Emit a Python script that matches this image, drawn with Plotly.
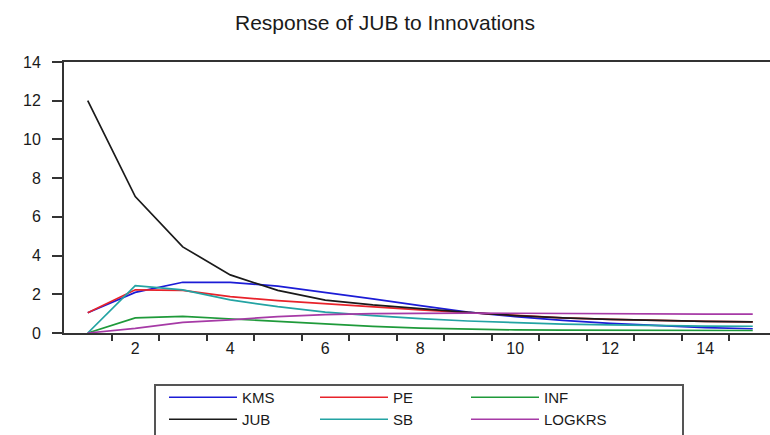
import plotly.graph_objects as go

periods = list(range(1, 16))
series_names = ["KMS", "PE", "INF", "JUB", "SB", "LOGKRS"]
kms = [1.05, 2.10, 2.62, 2.62, 2.42, 2.10, 1.76, 1.41, 1.08, 0.85, 0.65, 0.50, 0.38, 0.28, 0.22]
pe = [1.05, 2.23, 2.20, 1.88, 1.67, 1.50, 1.36, 1.19, 1.05, 0.90, 0.78, 0.70, 0.64, 0.60, 0.57]
inf = [0.00, 0.78, 0.86, 0.73, 0.62, 0.47, 0.34, 0.25, 0.19, 0.16, 0.15, 0.14, 0.14, 0.13, 0.13]
jub = [12.0, 7.05, 4.45, 3.00, 2.20, 1.70, 1.45, 1.25, 1.07, 0.90, 0.78, 0.70, 0.64, 0.60, 0.57]
sb = [0.00, 2.45, 2.23, 1.71, 1.36, 1.08, 0.90, 0.74, 0.62, 0.53, 0.46, 0.42, 0.38, 0.36, 0.35]
logkrs = [0.00, 0.24, 0.55, 0.68, 0.85, 0.95, 1.00, 1.03, 1.03, 1.02, 1.00, 1.00, 0.99, 0.98, 0.97]
values = [kms, pe, inf, jub, sb, logkrs]
colors = ["#1c1cd6", "#e8232b", "#1f9a3a", "#1a1a1a", "#23a3a3", "#a63aa6"]
legend_rows = ["legend", "legend", "legend", "legend2", "legend2", "legend2"]

x_tick_vals = [2, 4, 6, 8, 10, 12, 14]
x_minor_vals = [i + 0.5 for i in range(1, 15)]
y_tick_vals = [0, 2, 4, 6, 8, 10, 12, 14]

W, H = 770, 435
ml, mr, mt, mb = 64, 0, 62, 102
pw, ph = W - ml - mr, H - mt - mb

def px_to_paper_x(px):
    return (px - ml) / pw

def px_to_paper_y(py):
    return (H - mb - py) / ph

fig = go.Figure()
for name, vals, col, lg in zip(series_names, values, colors, legend_rows):
    fig.add_trace(go.Scatter(x=periods, y=vals, mode="lines", name=name, legend=lg,
                             line=dict(color=col, width=1.7)))

font_fam = "Liberation Sans, Arial, sans-serif"
legend_common = dict(orientation="h", xanchor="left", yanchor="top",
                     borderwidth=0, bgcolor="rgba(0,0,0,0)",
                     entrywidth=68, entrywidthmode="pixels", itemwidth=68,
                     font=dict(size=15, family=font_fam, color="#1a1a1a"),
                     tracegroupgap=0)
fig.update_layout(
    width=W, height=H,
    margin=dict(l=ml, r=mr, t=mt, b=mb, autoexpand=False),
    paper_bgcolor="white", plot_bgcolor="white",
    font=dict(family=font_fam, size=16, color="#1a1a1a"),
    title=dict(text="Response of JUB to Innovations", x=0.5, xref="container",
               xanchor="center", y=1 - 23 / H, yref="container", yanchor="middle",
               font=dict(size=21, family=font_fam, color="#1a1a1a")),
    showlegend=True,
    legend=dict(x=px_to_paper_x(164), y=px_to_paper_y(381), **legend_common),
    legend2=dict(x=px_to_paper_x(164), y=px_to_paper_y(403), **legend_common),
    shapes=[dict(type="rect", xref="paper", yref="paper",
                 x0=px_to_paper_x(155), x1=px_to_paper_x(683),
                 y0=px_to_paper_y(385), y1=px_to_paper_y(445),
                 line=dict(color="#555555", width=2), fillcolor="rgba(0,0,0,0)",
                 layer="below")],
)
fig.update_xaxes(range=[0.5, 0.5 + pw / 47.5], tickmode="array", tickvals=x_tick_vals,
                 ticks="", showgrid=False, zeroline=False,
                 showline=True, linecolor="#333333", linewidth=2, mirror=True,
                 ticklabelstandoff=0,
                 minor=dict(tickmode="array", tickvals=x_minor_vals, ticks="outside",
                            ticklen=6, tickwidth=1.5, tickcolor="#333333", showgrid=False))
fig.update_yaxes(range=[0, 14], tickmode="array", tickvals=y_tick_vals,
                 ticks="outside", ticklen=10, tickwidth=1.5, tickcolor="#333333",
                 showgrid=False, zeroline=False, ticklabelstandoff=8,
                 showline=True, linecolor="#333333", linewidth=2, mirror=False)
fig.write_html("out.html")
